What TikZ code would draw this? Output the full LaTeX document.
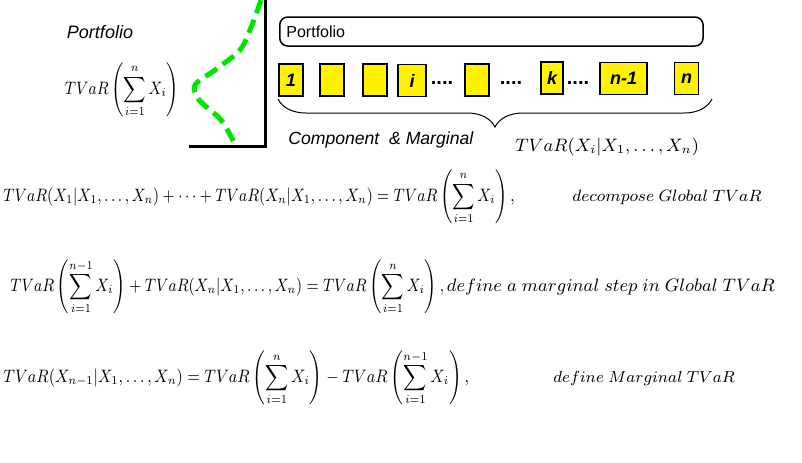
\documentclass[tikz,border=0pt]{standalone}
\usepackage{fix-cm}
\usepackage[no-math]{fontspec}
\setmainfont{Liberation Sans}
\usepackage{amsmath}
\usepackage{graphicx}
\usetikzlibrary{positioning, decorations.pathreplacing}

\newcommand{\narrow}[1]{\scalebox{0.84}[1]{#1}}

\begin{document}
\begin{tikzpicture}[x=0.5pt, y=-0.5pt,
  comp/.style={draw, fill=yellow, line width=0.6pt, minimum width=12pt, minimum height=16pt,
               inner sep=0pt, font=\fontsize{9}{10}\selectfont\bfseries\itshape},
  gap/.style={font=\fontsize{10}{11}\selectfont\bfseries, inner sep=0pt},
  eqn/.style={anchor=west, inner sep=0pt, font=\fontsize{9}{11}\selectfont}]
\useasboundingbox (0,0) rectangle (802,462);

% density of the portfolio
\node[font=\fontsize{9}{10}\selectfont\itshape] (ptitle) at (100,32) {Portfolio};
\node[font=\fontsize{9}{11}\selectfont] (ptvar) at (122,90) {\narrow{$\displaystyle TVaR\left(\sum_{i=1}^{n}X_i\right)$}};
\coordinate (top) at (265,0);
\coordinate (orig) at (265,146);
\coordinate (left) at (189,146);
\draw[line width=1.5pt] (top) -- (orig) -- (left);
\draw[green!90!black, line width=2.5pt, dash pattern=on 7pt off 3.5pt]
  plot[smooth] coordinates {(261,0) (252,25) (240,50) (215,70) (195,85) (199,100) (221,120) (236,146)};

% portfolio and its components
\node[draw, rounded corners=4pt, line width=0.75pt, minimum width=211.5pt, minimum height=14.5pt,
      anchor=west, font=\fontsize{8}{9}\selectfont, text width=205pt] (pbox) at (279,31.5) {Portfolio};
\node[comp] (c1) at (291,80) {1};
\node[comp] (c2) at (332,80) {};
\node[comp] (c3) at (375,80) {};
\node[comp, minimum width=14pt] (ci) at (412,80.5) {i};
\node[gap] (d1) at (442,83) {....};
\node[comp] (c5) at (477,80) {};
\node[gap] (d2) at (511,83) {....};
\node[comp, minimum width=11pt] (ck) at (552,78) {k};
\node[gap] (d3) at (578,83) {....};
\node[comp, minimum width=23.5pt] (cn1) at (623.5,78.5) {n-1};
\node[comp] (cn) at (686.5,78.5) {n};
\coordinate (bl) at (278,99);
\coordinate (br) at (712,99);
\draw[decorate, decoration={brace, mirror, amplitude=14pt}, line width=0.5pt] (bl) -- (br);
\node[font=\fontsize{8.8}{10}\selectfont\itshape, anchor=west, inner sep=0pt] (cm) at (288,140) {Component \ \& Marginal};
\node[eqn] (ctvar) at (515,147) {$TVaR(X_i|X_1,\ldots,X_n)$};

% equations
\node[eqn] (eq1) at (3,197)
  {\narrow{$\displaystyle TVaR(X_1|X_1,\ldots,X_n)+\cdots+TVaR(X_n|X_1,\ldots,X_n)=TVaR\left(\sum_{i=1}^{n}X_i\right),$}};
\node[eqn, font=\fontsize{8.2}{10}\selectfont] (lab1) at (572,197) {$decompose\ Global\ TVaR$};
\node[eqn] (eq2) at (10,287)
  {\narrow{$\displaystyle TVaR\left(\sum_{i=1}^{n-1}X_i\right)+TVaR(X_n|X_1,\ldots,X_n)=TVaR\left(\sum_{i=1}^{n}X_i\right),$}};
\node[eqn, font=\fontsize{9}{11}\selectfont, right=1pt of eq2] (lab2) {$define\ a\ marginal\ step\ in\ Global\ TVaR$};
\node[eqn] (eq3) at (3,378)
  {\scalebox{0.87}[1]{$\displaystyle TVaR(X_{n-1}|X_1,\ldots,X_n)=TVaR\left(\sum_{i=1}^{n}X_i\right)-TVaR\left(\sum_{i=1}^{n-1}X_i\right),$}};
\node[eqn, font=\fontsize{8}{10}\selectfont] (lab3) at (553,378) {$define\ Marginal\ TVaR$};
\end{tikzpicture}
\end{document}
